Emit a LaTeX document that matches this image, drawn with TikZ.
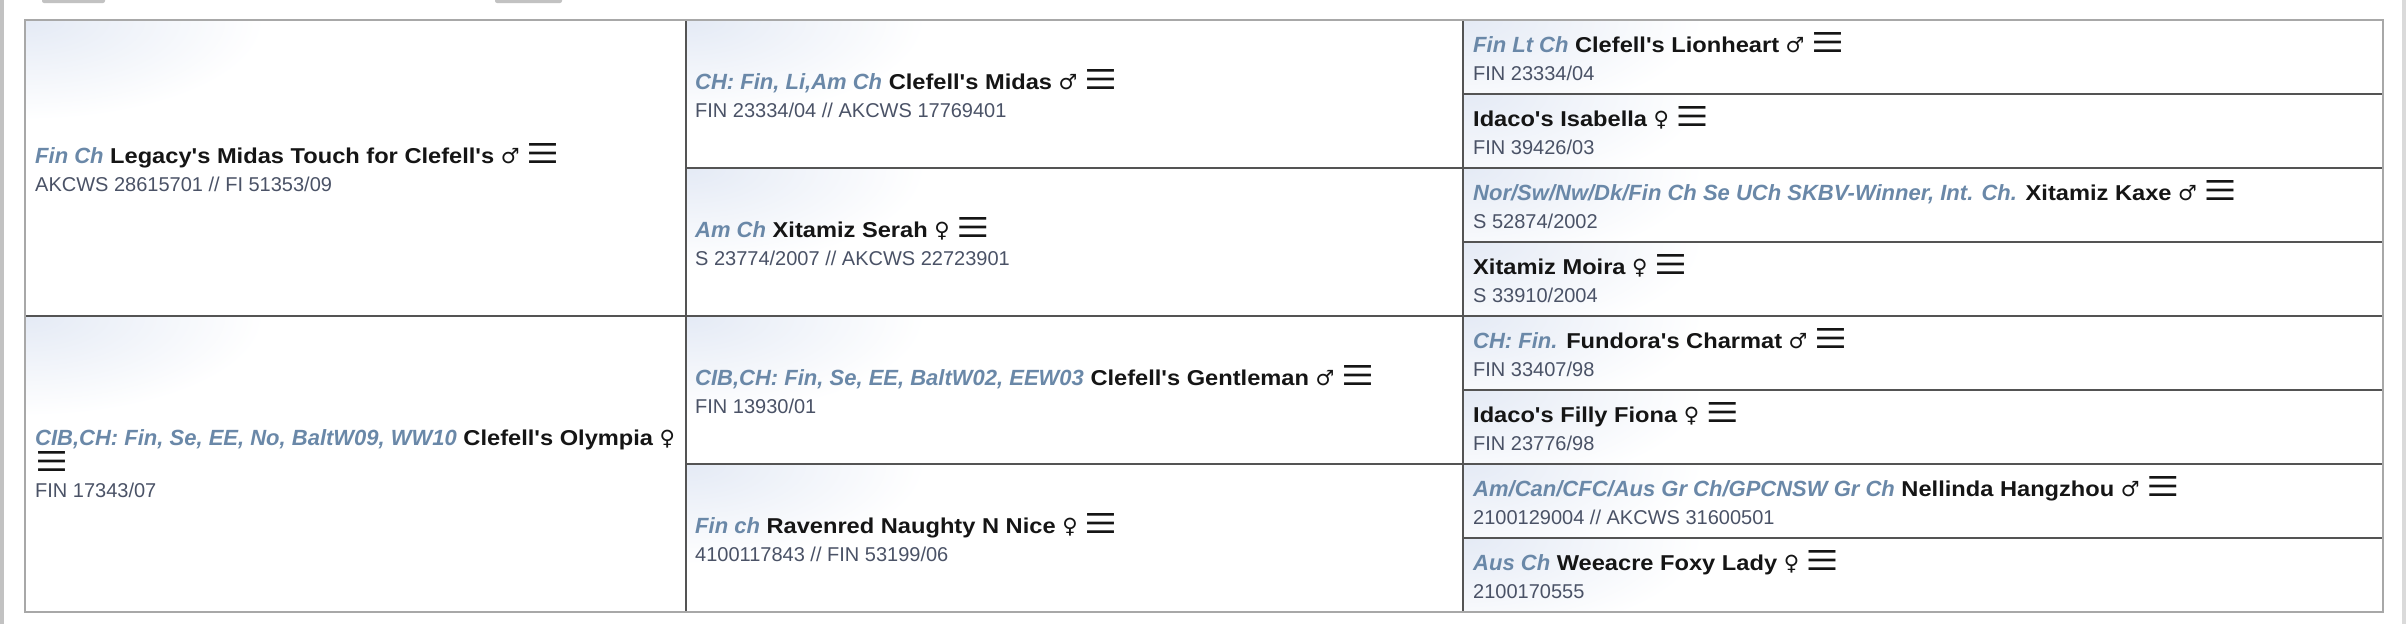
\documentclass[tikz,border=0pt]{standalone}
\usepackage{fontspec}
\usepackage{graphicx}
\setmainfont{Liberation Sans}[Ligatures=TeXOff, BoldFeatures={FakeStretch=1.1}]
\newfontfamily\symbolfont{DejaVu Sans}
\usetikzlibrary{positioning}

\definecolor{pedline}{HTML}{545454}
\definecolor{pedframe}{HTML}{A8A8A8}
\definecolor{pedtitle}{HTML}{6A88A8}
\definecolor{pedreg}{HTML}{4A5266}
\definecolor{pedname}{HTML}{151515}
\definecolor{pedglow}{HTML}{E4EAF5}
\definecolor{pagebar}{HTML}{C2C2C2}

\newcommand{\namefont}{\fontsize{21.5}{26}\selectfont\bfseries}
\newcommand{\dogtitle}[1]{{\fontsize{22}{26}\selectfont\color{pedtitle}\itshape #1}}
\newcommand{\regno}[1]{{\fontsize{20}{26}\selectfont\mdseries\color{pedreg}#1}}
\newcommand{\sexm}{{\symbolfont\fontsize{21}{26}\selectfont\mdseries ♂}}
\newcommand{\sexf}{{\symbolfont\fontsize{21}{26}\selectfont\mdseries ♀}}
\newcommand{\pedmenu}{\resizebox{33pt}{20pt}{\symbolfont\mdseries ☰}}

\tikzset{
    % empty table cell
    pedcell/.style={
        rectangle,
        anchor=north west,
        inner sep=0pt,
        outer sep=0pt
    },
    gen1/.style={pedcell, minimum width=661, minimum height=296},
    gen2/.style={pedcell, minimum width=777, minimum height=148},
    gen3/.style={pedcell, minimum width=920, minimum height=74},
    % cell border
    pedrule/.style={
        draw=pedline,
        line width=1.4pt
    },
    % dog entry text
    dogtext/.style={
        align=left,
        inner sep=0pt,
        text=pedname,
        font=\namefont
    }
}

\begin{document}
\begin{tikzpicture}[x=1pt, y=-1pt]
    \useasboundingbox (0,0) rectangle (2406,624);

    % screen edges
    \fill[pagebar] (0,0) rectangle (4,624);
    \fill[pagebar!60] (2402,0) rectangle (2406,624);
    \fill[pagebar, rounded corners=2pt] (42,-4) rectangle (105,3);
    \fill[pagebar, rounded corners=2pt] (495,-4) rectangle (562,3);

    % Generation 1
    \node[gen1] (sire) at (25,20) {};
    \node[gen1] (dam) at (25,316) {};

    % Generation 2
    \node[gen2] (s-sire) at (686,20) {};
    \node[gen2] (s-dam) at (686,168) {};
    \node[gen2] (d-sire) at (686,316) {};
    \node[gen2] (d-dam) at (686,464) {};

    % Generation 3
    \node[gen3] (ss-sire) at (1463,20) {};
    \node[gen3] (ss-dam) at (1463,94) {};
    \node[gen3] (sd-sire) at (1463,168) {};
    \node[gen3] (sd-dam) at (1463,242) {};
    \node[gen3] (ds-sire) at (1463,316) {};
    \node[gen3] (ds-dam) at (1463,390) {};
    \node[gen3] (dd-sire) at (1463,464) {};
    \node[gen3] (dd-dam) at (1463,538) {};

    % glow in the cell corners
    \foreach \cell in {sire, dam, s-sire, s-dam, d-sire, d-dam, ss-sire, ss-dam, sd-sire, sd-dam, ds-sire, ds-dam, dd-sire, dd-dam} {
        \begin{scope}
            \clip (\cell.north west) rectangle (\cell.south east);
            \shade[inner color=pedglow, outer color=white] (\cell.north west) ellipse [x radius=240pt, y radius=100pt];
        \end{scope}
    }

    % cell borders
    \foreach \cell in {sire, dam, s-sire, s-dam, d-sire, d-dam, ss-sire, ss-dam, sd-sire, sd-dam, ds-sire, ds-dam, dd-sire, dd-dam}
        \draw[pedrule] (\cell.north west) rectangle (\cell.south east);
    \draw[pedframe, line width=2.6pt] (sire.north west) rectangle (dd-dam.south east);

    % Generation 1 entries
    \node[dogtext, right=10pt of sire.west] (sire-text) {\dogtitle{Fin Ch} Legacy's Midas Touch for Clefell's \sexm\ \pedmenu\\[2pt]\regno{AKCWS 28615701 // FI 51353/09}};
    \node[dogtext, right=10pt of dam.west] (dam-text) {\dogtitle{CIB,CH: Fin, Se, EE, No, BaltW09, WW10} Clefell's Olympia \sexf\\\pedmenu\\\regno{FIN 17343/07}};

    % Generation 2 entries
    \node[dogtext, right=9pt of s-sire.west] (s-sire-text) {\dogtitle{CH: Fin, Li,Am Ch} Clefell's Midas \sexm\ \pedmenu\\[2pt]\regno{FIN 23334/04 // AKCWS 17769401}};
    \node[dogtext, right=9pt of s-dam.west] (s-dam-text) {\dogtitle{Am Ch} Xitamiz Serah \sexf\ \pedmenu\\[2pt]\regno{S 23774/2007 // AKCWS 22723901}};
    \node[dogtext, right=9pt of d-sire.west] (d-sire-text) {\dogtitle{CIB,CH: Fin, Se, EE, BaltW02, EEW03} Clefell's Gentleman \sexm\ \pedmenu\\[2pt]\regno{FIN 13930/01}};
    \node[dogtext, right=9pt of d-dam.west] (d-dam-text) {\dogtitle{Fin ch} Ravenred Naughty N Nice \sexf\ \pedmenu\\[2pt]\regno{4100117843 // FIN 53199/06}};

    % Generation 3 entries
    \node[dogtext, right=10pt of ss-sire.west] (ss-sire-text) {\dogtitle{Fin Lt Ch} Clefell's Lionheart \sexm\ \pedmenu\\[2pt]\regno{FIN 23334/04}};
    \node[dogtext, right=10pt of ss-dam.west] (ss-dam-text) {Idaco's Isabella \sexf\ \pedmenu\\[2pt]\regno{FIN 39426/03}};
    \node[dogtext, right=10pt of sd-sire.west] (sd-sire-text) {\dogtitle{Nor/Sw/Nw/Dk/Fin Ch Se UCh SKBV-Winner, Int. Ch.} Xitamiz Kaxe \sexm\ \pedmenu\\[2pt]\regno{S 52874/2002}};
    \node[dogtext, right=10pt of sd-dam.west] (sd-dam-text) {Xitamiz Moira \sexf\ \pedmenu\\[2pt]\regno{S 33910/2004}};
    \node[dogtext, right=10pt of ds-sire.west] (ds-sire-text) {\dogtitle{CH: Fin.} Fundora's Charmat \sexm\ \pedmenu\\[2pt]\regno{FIN 33407/98}};
    \node[dogtext, right=10pt of ds-dam.west] (ds-dam-text) {Idaco's Filly Fiona \sexf\ \pedmenu\\[2pt]\regno{FIN 23776/98}};
    \node[dogtext, right=10pt of dd-sire.west] (dd-sire-text) {\dogtitle{Am/Can/CFC/Aus Gr Ch/GPCNSW Gr Ch} Nellinda Hangzhou \sexm\ \pedmenu\\[2pt]\regno{2100129004 // AKCWS 31600501}};
    \node[dogtext, right=10pt of dd-dam.west] (dd-dam-text) {\dogtitle{Aus Ch} Weeacre Foxy Lady \sexf\ \pedmenu\\[2pt]\regno{2100170555}};

\end{tikzpicture}
\end{document}
